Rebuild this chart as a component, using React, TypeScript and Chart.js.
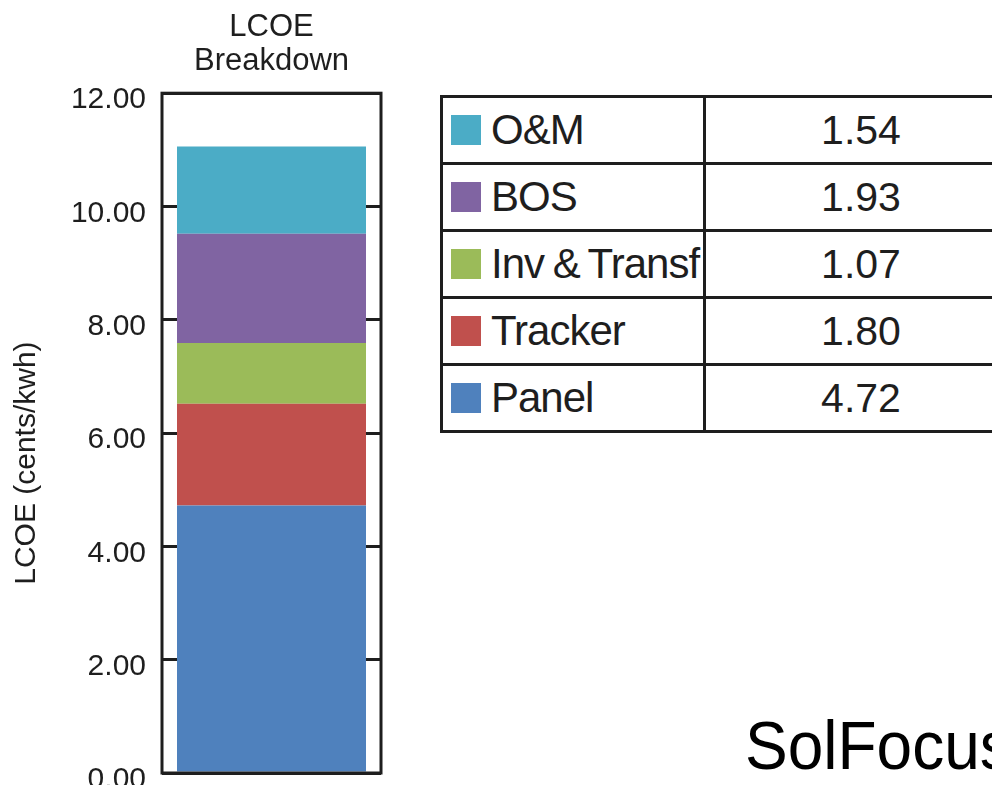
import React, { useEffect, useRef } from "react";
import { Chart, registerables } from "chart.js";

Chart.register(...registerables);

const categories = ["LCOE"];
const componentNames = ["O&M", "BOS", "Inv & Transf", "Tracker", "Panel"];
const componentValues = [1.54, 1.93, 1.07, 1.8, 4.72];
const componentColors = ["#4BACC6", "#8064A2", "#9BBB59", "#C0504D", "#4F81BD"];
const yMin = 0;
const yMax = 12;
const yStep = 2;
const chartTitle = ["LCOE", "Breakdown"];
const yAxisTitle = "LCOE (cents/kwh)";
const brandText = "SolFocus";

const FONT = "'Liberation Sans', Arial, Helvetica, sans-serif";
const INK = "#1e1e1e";

const framePlugin = {
  id: "frame",
  afterDatasetsDraw(chart: any) {
    const { ctx, chartArea } = chart;
    ctx.save();
    ctx.strokeStyle = INK;
    ctx.lineWidth = 3;
    ctx.strokeRect(chartArea.left, chartArea.top, chartArea.right - chartArea.left, chartArea.bottom - chartArea.top);
    ctx.restore();
  },
};

const yTitlePlugin = {
  id: "yTitle",
  afterDraw(chart: any) {
    const { ctx, chartArea } = chart;
    ctx.save();
    ctx.fillStyle = INK;
    ctx.font = `30px ${FONT}`;
    ctx.textAlign = "center";
    ctx.textBaseline = "middle";
    ctx.translate(27, (chartArea.top + chartArea.bottom) / 2 + 30);
    ctx.rotate(-Math.PI / 2);
    ctx.fillText(yAxisTitle, 0, 0);
    ctx.restore();
  },
};

export default function App() {
  const canvasRef = useRef<HTMLCanvasElement | null>(null);

  useEffect(() => {
    if (!canvasRef.current) return;
    const datasets = componentNames
      .map((name, i) => ({
        label: name,
        data: [componentValues[i]],
        backgroundColor: componentColors[i],
        borderWidth: 0,
        barPercentage: 0.863,
        categoryPercentage: 1,
      }))
      .reverse();
    const chart = new Chart(canvasRef.current, {
      type: "bar",
      data: { labels: categories, datasets },
      options: {
        animation: false,
        responsive: false,
        devicePixelRatio: 1,
        layout: { padding: { left: 0, right: 19, top: 0, bottom: 57 } },
        plugins: {
          legend: { display: false },
          tooltip: { enabled: false },
          title: {
            display: true,
            text: chartTitle,
            fullSize: false,
            color: INK,
            font: { family: FONT, size: 31, weight: "normal", lineHeight: 1.1 },
            padding: { top: 10, bottom: 15 },
          },
        },
        scales: {
          x: { display: false, stacked: true },
          y: {
            stacked: true,
            min: yMin,
            max: yMax,
            border: { display: false },
            grid: { color: INK, lineWidth: 3, drawTicks: false },
            ticks: {
              stepSize: yStep,
              padding: 16,
              labelOffset: 7,
              color: INK,
              font: { family: FONT, size: 30 },
              callback: (v: any) => Number(v).toFixed(2),
            },
            afterFit: (scale: any) => {
              scale.width = 162;
            },
          },
        },
      },
      plugins: [framePlugin, yTitlePlugin],
    });
    return () => chart.destroy();
  }, []);

  return (
    <div
      style={{
        position: "fixed",
        left: 0,
        top: 0,
        width: 992,
        height: 785,
        overflow: "hidden",
        background: "#fff",
        fontFamily: FONT,
        color: INK,
      }}
    >
      <canvas ref={canvasRef} width={400} height={830} style={{ position: "absolute", left: 0, top: 0 }} />
      <div
        style={{
          position: "absolute",
          left: 440,
          top: 95,
          border: `3px solid ${INK}`,
          background: INK,
          display: "grid",
          gridTemplateColumns: "260px 310px",
          gridAutoRows: "64px",
          gap: 3,
        }}
      >
        {componentNames.map((name, i) => (
          <React.Fragment key={name}>
            <div
              style={{
                background: "#fff",
                display: "flex",
                alignItems: "center",
                paddingLeft: 8,
                whiteSpace: "nowrap",
                overflow: "hidden",
              }}
            >
              <span
                style={{
                  display: "inline-block",
                  width: 30,
                  height: 30,
                  background: componentColors[i],
                  marginRight: 10,
                  flex: "none",
                }}
              />
              <span style={{ fontSize: 42, lineHeight: 1, letterSpacing: -1, wordSpacing: -2 }}>{name}</span>
            </div>
            <div
              style={{
                background: "#fff",
                display: "flex",
                alignItems: "center",
                justifyContent: "center",
                fontSize: 41,
                lineHeight: 1,
              }}
            >
              {componentValues[i].toFixed(2)}
            </div>
          </React.Fragment>
        ))}
      </div>
      <div
        style={{
          position: "absolute",
          left: 745,
          top: 716,
          fontSize: 64,
          lineHeight: 1,
          color: "#000",
          whiteSpace: "nowrap",
          transform: "scaleY(1.06)",
          transformOrigin: "left bottom",
        }}
      >
        {brandText}
      </div>
    </div>
  );
}
